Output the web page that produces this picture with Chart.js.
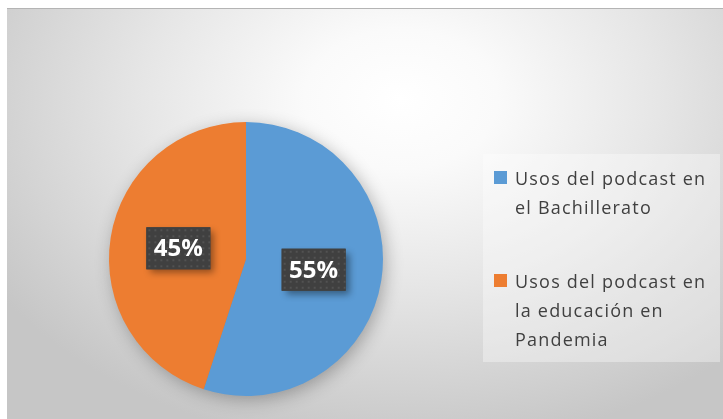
<!DOCTYPE html>
<html>
<head>
<meta charset="utf-8">
<script src="https://cdn.jsdelivr.net/npm/chart.js@4.4.0/dist/chart.umd.min.js"></script>
<style>
    body { margin: 0; background: #fff; width: 723px; height: 419px; overflow: hidden; }
    #frame {
        position: absolute; left: 7px; top: 8px; width: 716px; height: 411px;
        border-top: 1px solid #b4b4b4; box-sizing: border-box;
        background: radial-gradient(ellipse 75% 95% at 55% 22%, #ffffff 0%, #fafafa 18%, #e6e6e6 48%, #c6c6c6 90%);
    }
    #chartWrap { position: absolute; left: 0; top: 0; width: 716px; height: 411px; }
    #legend {
        position: absolute; left: 476px; top: 145px; width: 237px; height: 208px;
        background: rgba(255, 255, 255, 0.35);
        font-family: 'Open Sans', sans-serif; font-size: 18px; color: #404040;
        letter-spacing: 1.2px;
    }
    .item { position: absolute; left: 32px; line-height: 29px; white-space: nowrap; }
    .box { position: absolute; left: -21px; top: 7px; width: 13px; height: 13px; }
</style>
</head>
<body>
<div id="frame">
    <div id="chartWrap"><canvas id="pieChart"></canvas></div>
    <div id="legend"></div>
</div>
<script>
// Chart data
const labels = [
    ['Usos del podcast en', 'el Bachillerato'],
    ['Usos del podcast en', 'la educación en', 'Pandemia']
];
const values = [55, 45];
const colors = ['#5B9BD5', '#ED7D31'];

// Soft shadow under the whole pie
const pieShadow = {
    id: 'pieShadow',
    beforeDatasetsDraw(chart) {
        const arc = chart.getDatasetMeta(0).data[0];
        if (!arc) return;
        const ctx = chart.ctx;
        ctx.save();
        ctx.shadowColor = 'rgba(0, 0, 0, 0.3)';
        ctx.shadowBlur = 18;
        ctx.shadowOffsetX = 3;
        ctx.shadowOffsetY = 4;
        ctx.fillStyle = '#888';
        ctx.beginPath();
        ctx.arc(arc.x, arc.y, arc.outerRadius - 1, 0, Math.PI * 2);
        ctx.fill();
        ctx.restore();
    }
};

// Dotted dark boxes with percentages
function makePattern(ctx) {
    const p = document.createElement('canvas');
    p.width = 6; p.height = 6;
    const pc = p.getContext('2d');
    pc.fillStyle = '#404040';
    pc.fillRect(0, 0, 6, 6);
    pc.fillStyle = '#525252';
    pc.fillRect(2, 2, 2, 2);
    return ctx.createPattern(p, 'repeat');
}

const pctLabels = {
    id: 'pctLabels',
    afterDatasetsDraw(chart) {
        const ctx = chart.ctx;
        const meta = chart.getDatasetMeta(0);
        const total = values.reduce((a, b) => a + b, 0);
        const pattern = makePattern(ctx);
        meta.data.forEach((arc, i) => {
            const pos = arc.tooltipPosition();
            const w = 64, h = 42;
            const x = pos.x - w / 2, y = pos.y - h / 2;
            ctx.save();
            ctx.shadowColor = 'rgba(0, 0, 0, 0.4)';
            ctx.shadowBlur = 7;
            ctx.shadowOffsetX = 4;
            ctx.shadowOffsetY = 4;
            ctx.fillStyle = '#404040';
            ctx.fillRect(x, y, w, h);
            ctx.restore();
            ctx.save();
            ctx.fillStyle = pattern;
            ctx.translate(x, y);
            ctx.fillRect(0, 0, w, h);
            ctx.restore();
            ctx.save();
            ctx.fillStyle = '#ffffff';
            ctx.font = 'bold 24px "Open Sans"';
            ctx.textAlign = 'center';
            ctx.textBaseline = 'middle';
            const pct = Math.round(values[i] / total * 100) + '%';
            ctx.fillText(pct, pos.x, pos.y + 1);
            ctx.restore();
        });
    }
};

const pieChart = new Chart(document.getElementById('pieChart'), {
    type: 'pie',
    data: {
        labels: labels,
        datasets: [{
            data: values,
            backgroundColor: colors,
            borderWidth: 0
        }]
    },
    options: {
        responsive: true,
        maintainAspectRatio: false,
        animation: false,
        layout: {
            padding: { left: 102, right: 340, top: 113, bottom: 24 }
        },
        plugins: {
            legend: { display: false },
            tooltip: { enabled: false }
        }
    },
    plugins: [pieShadow, pctLabels]
});

// HTML legend built from the chart data
const legendEl = document.getElementById('legend');
const itemTops = [10, 113];
pieChart.data.labels.forEach((lines, i) => {
    const item = document.createElement('div');
    item.className = 'item';
    item.style.top = itemTops[i] + 'px';
    const box = document.createElement('span');
    box.className = 'box';
    box.style.background = pieChart.data.datasets[0].backgroundColor[i];
    item.appendChild(box);
    lines.forEach((line, j) => {
        if (j) item.appendChild(document.createElement('br'));
        item.appendChild(document.createTextNode(line));
    });
    legendEl.appendChild(item);
});
</script>
</body>
</html>
